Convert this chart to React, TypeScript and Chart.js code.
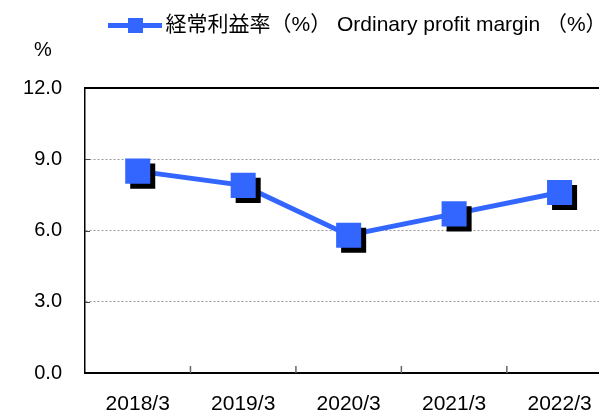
import { useEffect, useRef } from 'react';
import { Chart, registerables } from 'chart.js';

Chart.register(...registerables);

const categories = ['2018/3', '2019/3', '2020/3', '2021/3', '2022/3'];
const marginValues = [8.5, 7.9, 5.8, 6.7, 7.6];
const yTickValues = [0, 3, 6, 9, 12];
const legendLabel = '経常利益率（%） Ordinary profit margin （%）';
const unitLabel = '%';

const BLUE = '#3366FF';
const FONT = "'Liberation Sans', Arial, 'Noto Sans CJK JP', sans-serif";

function makeLegendImage(): HTMLCanvasElement {
  const c = document.createElement('canvas');
  c.width = 54;
  c.height = 15;
  const g = c.getContext('2d')!;
  g.fillStyle = BLUE;
  g.fillRect(0, 5, 54, 5);
  g.fillRect(20, 0, 15, 15);
  return c;
}

const framePlugin = {
  id: 'frameAndTicks',
  beforeDatasetsDraw(chart: any) {
    const { ctx, chartArea } = chart;
    const x = chart.scales.x;
    const y = chart.scales.y;
    ctx.save();
    // top border
    ctx.strokeStyle = '#000';
    ctx.lineWidth = 2;
    ctx.beginPath();
    ctx.moveTo(chartArea.left, chartArea.top);
    ctx.lineTo(chartArea.right, chartArea.top);
    ctx.stroke();
    // inward y ticks
    ctx.strokeStyle = '#444';
    ctx.lineWidth = 1;
    yTickValues.slice(1, -1).forEach((v) => {
      const py = Math.round(y.getPixelForValue(v)) + 0.5;
      ctx.beginPath();
      ctx.moveTo(chartArea.left, py);
      ctx.lineTo(chartArea.left + 5, py);
      ctx.stroke();
    });
    // inward x ticks at category boundaries
    ctx.strokeStyle = '#666';
    ctx.lineWidth = 1.5;
    for (let i = 0; i < categories.length - 1; i++) {
      const px = (x.getPixelForValue(i) + x.getPixelForValue(i + 1)) / 2;
      ctx.beginPath();
      ctx.moveTo(px, chartArea.bottom);
      ctx.lineTo(px, chartArea.bottom - 7);
      ctx.stroke();
    }
    ctx.restore();
  },
  afterDraw(chart: any) {
    const { ctx, chartArea } = chart;
    ctx.save();
    ctx.fillStyle = '#000';
    ctx.font = `20px ${FONT}`;
    ctx.textAlign = 'left';
    ctx.textBaseline = 'middle';
    ctx.fillText(unitLabel, 34, chartArea.top - 38);
    ctx.restore();
  },
};

const shadowPlugin = {
  id: 'markerShadow',
  beforeDatasetDraw(chart: any, args: any) {
    if (args.index !== 0) return;
    const ctx = chart.ctx;
    ctx.save();
    ctx.shadowColor = '#000';
    ctx.shadowOffsetX = 5;
    ctx.shadowOffsetY = 5;
    ctx.shadowBlur = 0;
  },
  afterDatasetDraw(chart: any, args: any) {
    if (args.index !== 0) return;
    chart.ctx.restore();
  },
};

export default function App() {
  const ref = useRef<HTMLCanvasElement | null>(null);

  useEffect(() => {
    if (!ref.current) return;
    const legendImg = makeLegendImage();
    const chart = new Chart(ref.current, {
      type: 'line',
      data: {
        labels: categories,
        datasets: [
          {
            label: legendLabel,
            data: marginValues,
            showLine: false,
            pointStyle: 'rect',
            pointRadius: 17.7,
            pointHoverRadius: 17.7,
            pointBackgroundColor: BLUE,
            pointBorderWidth: 0,
            borderColor: BLUE,
            backgroundColor: BLUE,
          },
          {
            label: 'line',
            data: marginValues,
            borderColor: BLUE,
            borderWidth: 5,
            pointRadius: 0,
            tension: 0,
            fill: false,
          },
        ],
      },
      options: {
        responsive: false,
        animation: false,
        devicePixelRatio: 1,
        layout: { padding: { top: -15, left: 0, right: 13.5, bottom: 0 } },
        plugins: {
          tooltip: { enabled: false },
          legend: {
            display: true,
            position: 'top',
            align: 'start',
            fullSize: false,
            labels: {
              usePointStyle: true,
              pointStyle: legendImg as any,
              pointStyleWidth: 40,
              padding: 30,
              color: '#000',
              font: { family: FONT, size: 21 },
              filter: (item: any) => item.datasetIndex === 0,
            },
          },
          title: {
            display: true,
            text: '',
            position: 'top',
            fullSize: true,
            weight: 500,
            font: { family: FONT, size: 20 },
            padding: { top: 0, bottom: 18 },
          },
        },
        scales: {
          x: {
            type: 'category',
            offset: true,
            grid: { display: false, drawTicks: false },
            border: { display: true, color: '#000', width: 2 },
            ticks: {
              color: '#000',
              font: { family: FONT, size: 21 },
              padding: 19,
              maxRotation: 0,
              autoSkip: false,
            },
            afterFit: (scale: any) => {
              scale.height = 41;
            },
          },
          y: {
            min: yTickValues[0],
            max: yTickValues[yTickValues.length - 1],
            grid: {
              color: '#999',
              lineWidth: 1,
              drawTicks: false,
            },
            border: { display: true, color: '#000', width: 1.5 },
            ticks: {
              stepSize: 3,
              color: '#000',
              font: { family: FONT, size: 20 },
              padding: 23,
              callback: (v: any) => Number(v).toFixed(1),
            },
            afterFit: (scale: any) => {
              scale.width = 85;
            },
          },
        },
      },
      plugins: [framePlugin, shadowPlugin],
    });
    (chart.options.scales as any).y.grid.borderDash = [2, 2];
    (chart.options.scales as any).y.border.dash = [2, 2];
    (chart.options.scales as any).y.grid.tickBorderDash = [2, 2];
    chart.update();
    return () => chart.destroy();
  }, []);

  return (
    <div
      style={{
        position: 'fixed',
        left: 0,
        top: 0,
        width: 599,
        height: 414,
        overflow: 'hidden',
        background: '#fff',
      }}
    >
      <canvas ref={ref} width={630} height={414} style={{ display: 'block' }} />
    </div>
  );
}
